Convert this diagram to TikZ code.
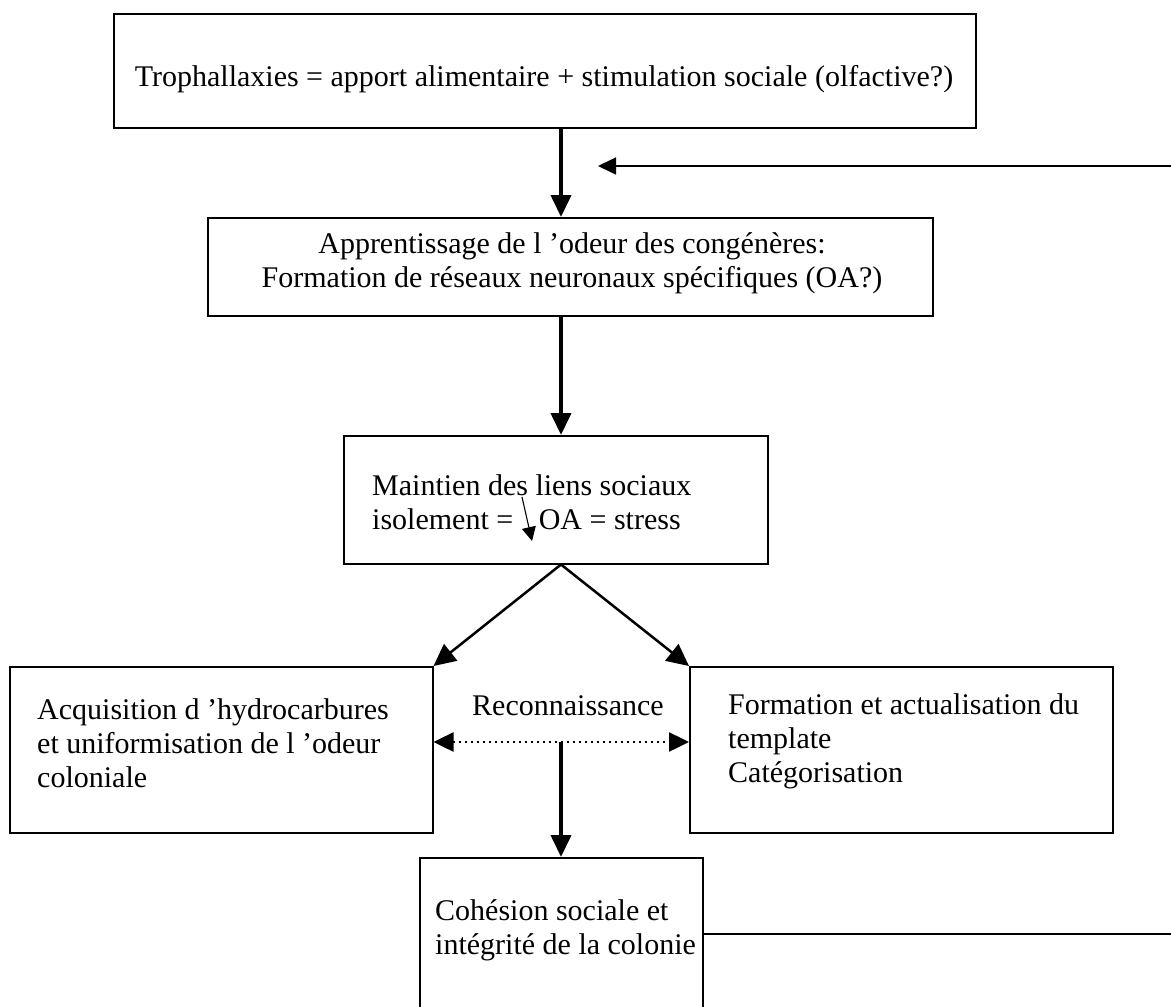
\documentclass[tikz,border=0pt]{standalone}
\usepackage{fontspec}
\setmainfont{Liberation Serif}
\usetikzlibrary{arrows.meta}
\begin{document}
\begin{tikzpicture}[x=1pt,y=-1pt,
  box/.style={draw, line width=1.5pt, anchor=north west, inner sep=0pt},
  txt/.style={font=\fontsize{30}{34}\selectfont, inner sep=0pt},
  bigarrow/.style={line width=4pt, -{Triangle[length=22pt,width=20pt]}},
  diagarrow/.style={line width=2.5pt, -{Triangle[length=22pt,width=21pt]}},
  dotarrow/.style={line width=2.5pt, dash pattern=on 2.5pt off 3.5pt, {Triangle[length=20pt,width=19pt]}-{Triangle[length=20pt,width=19pt]}},
  fbline/.style={line width=1.5pt},
  fbarrow/.style={line width=1.5pt, -{Triangle[length=18pt,width=17pt]}},
  smallarrow/.style={line width=1.1pt, -{Triangle[length=14pt,width=14pt]}}
]
\clip (0,0) rectangle (1171,1007);
\fill[white] (0,0) rectangle (1171,1007);

% boxes
\node[box, minimum width=862pt, minimum height=114pt] (b1) at (113,13) {};
\node[box, minimum width=725pt, minimum height=98pt] (b2) at (207,217) {};
\node[box, minimum width=424pt, minimum height=128pt] (b3) at (343,435) {};
\node[box, minimum width=423pt, minimum height=166pt] (bl) at (9,666) {};
\node[box, minimum width=423pt, minimum height=166pt] (br) at (689,666) {};
\node[box, minimum width=283pt, minimum height=180pt] (b4) at (419,857) {};

% texts
\node[txt, anchor=base] (t1) at (544,86) {Trophallaxies = apport alimentaire + stimulation sociale (olfactive?)};
\node[txt, anchor=north, align=center] (t2) at (572,229.2) {\strut Apprentissage de l ’odeur des congénères:\\\strut Formation de réseaux neuronaux spécifiques (OA?)};
\node[txt, anchor=north west, align=left] (t3) at (372,471.2) {\strut Maintien des liens sociaux\\\strut isolement = \hspace{18pt}OA = stress};
\node[txt, anchor=base] (trec) at (568,715) {Reconnaissance};
\node[txt, anchor=north west, align=left] (tl) at (37,695.2) {\strut Acquisition d ’hydrocarbures\\\strut et uniformisation de l ’odeur\\\strut coloniale};
\node[txt, anchor=north west, align=left] (tr) at (728,690.2) {\strut Formation et actualisation du\\\strut template\\\strut Catégorisation};
\node[txt, anchor=north west, align=left] (t4) at (435,896.2) {\strut Cohésion sociale et\\\strut intégrité de la colonie};

% helper coordinates
\coordinate (ax) at (561,0);
\coordinate (dy) at (561,742);
\coordinate (sa1) at (522,497);
\coordinate (sa2) at (532,541);
\coordinate (fbin) at (598,166);
\coordinate (fbtop) at (1175,166);
\coordinate (fbbot) at (1175,934);

% connectors
\draw[bigarrow] (b1.south -| ax) -- (b2.north -| ax);
\draw[bigarrow] (b2.south -| ax) -- (b3.north -| ax);
\draw[diagarrow] (b3.south -| ax) -- (bl.north east);
\draw[diagarrow] (b3.south -| ax) -- (br.north west);
\draw[dotarrow] (dy -| bl.east) -- (dy -| br.west);
\draw[bigarrow] (dy) -- (dy |- b4.north);
\draw[smallarrow] (sa1) -- (sa2);
\draw[fbline] (b4.east |- fbbot) -- (fbbot);
\draw[fbarrow] (fbtop) -- (fbin);
\end{tikzpicture}
\end{document}
